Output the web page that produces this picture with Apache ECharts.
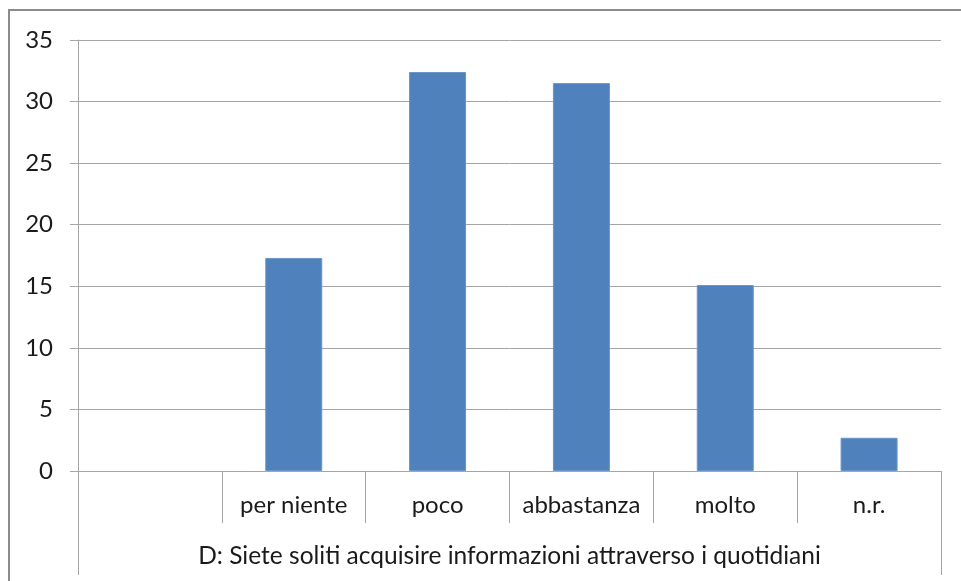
<!DOCTYPE html>
<html>
<head>
<meta charset="utf-8">
<script src="https://cdn.jsdelivr.net/npm/echarts@6/dist/echarts.min.js"></script>
<style>
  html, body { margin: 0; padding: 0; background: #fff; }
  #chart { width: 961px; height: 581px; }
</style>
</head>
<body>
<div id="chart"></div>
<script>
// dati
var categories = ['', 'per niente', 'poco', 'abbastanza', 'molto', 'n.r.']
var values = [null, 17.3, 32.4, 31.5, 15.1, 2.7]
var groupLabel = ['D: Siete soliti acquisire informazioni attraverso i quotidiani']
var yTicks = { min: 0, max: 35, step: 5 }

var chart = echarts.init(document.getElementById('chart'))
var fontFamily = 'Lato, "Open Sans", sans-serif'
var grey = '#a6a6a6'

var option = {
    animation: false,
    backgroundColor: '#fff',
    grid: {
        left: 78,
        right: 20,
        top: 40,
        bottom: 110
    },
    xAxis: [
        {
            type: 'category',
            data: categories,
            axisLine: { lineStyle: { color: grey, width: 1 } },
            axisTick: {
                show: true,
                interval: 0,
                length: 52,
                lineStyle: { color: grey }
            },
            axisLabel: {
                interval: 0,
                margin: 22,
                color: '#1a1a1a',
                fontSize: 24,
                fontFamily: fontFamily
            }
        },
        {
            type: 'category',
            position: 'bottom',
            data: groupLabel,
            axisLine: { show: false },
            axisTick: {
                show: true,
                interval: 0,
                length: 104,
                lineStyle: { color: grey }
            },
            axisLabel: {
                margin: 73,
                color: '#1a1a1a',
                fontSize: 24.5,
                fontFamily: fontFamily
            }
        }
    ],
    yAxis: {
        type: 'value',
        min: yTicks.min,
        max: yTicks.max,
        interval: yTicks.step,
        axisLine: { show: true, lineStyle: { color: grey } },
        axisTick: { show: true, length: 8, lineStyle: { color: grey } },
        axisLabel: {
            margin: 25,
            color: '#1a1a1a',
            fontSize: 24,
            fontFamily: fontFamily
        },
        splitLine: { lineStyle: { color: grey, width: 1 } }
    },
    series: [
        {
            type: 'bar',
            xAxisIndex: 0,
            data: values,
            barWidth: 57,
            itemStyle: { color: '#4f81bd', borderColor: '#6b95c8', borderWidth: 1 }
        }
    ],
    graphic: [
        {
            type: 'rect',
            shape: { x: 9, y: 10, width: 1000, height: 1000 },
            style: { fill: 'none', stroke: '#8c8c8c', lineWidth: 2 }
        }
    ]
}
chart.setOption(option)
</script>
</body>
</html>
